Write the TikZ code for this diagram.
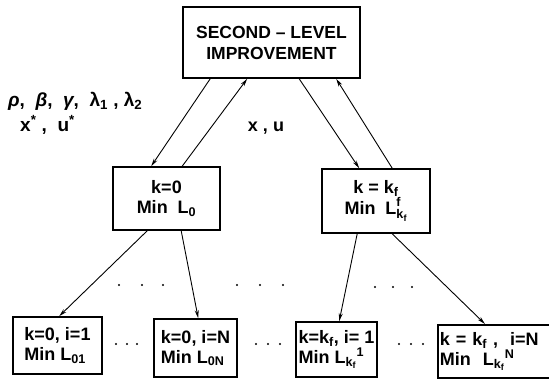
\documentclass[tikz,border=0pt]{standalone}
\usepackage{amsmath}
\usepackage{fontspec}
\setmainfont{Liberation Sans}
\usetikzlibrary{arrows.meta,calc}
\begin{document}
\begin{tikzpicture}[x=1pt,y=-1pt,
  box/.style={draw,line width=1.6pt,inner sep=1pt,align=center,font=\fontsize{18}{20}\selectfont\bfseries},
  lbl/.style={inner sep=0pt,font=\fontsize{18}{20}\selectfont\bfseries},
  conn/.style={line width=0.9pt,-{Stealth[length=8pt,width=4pt]}},
  dot/.style={fill,circle,inner sep=0pt,minimum size=2.4pt}]
\useasboundingbox (0,0) rectangle (549,387);
\clip (0,0) rectangle (549,387);
\node[box,minimum width=177,minimum height=71,font=\fontsize{17.5}{21}\selectfont\bfseries] (top) at (271.5,42.5) {SECOND -- LEVEL\\IMPROVEMENT};
\node[box,minimum width=107,minimum height=63] (ml) at (166.5,198.5) {k=0\\Min\ \ $\text{L}_{\text{0}}$};
\node[box,minimum width=108,minimum height=64] (mr) at (376,201) {k = $\text{k}_{\text{f}}$\\Min\ \ $\text{L}^{\text{f}}_{\text{k}_{\text{f}}}$};
\node[box,align=left,minimum width=89,minimum height=57] (b1) at (57.5,345.5) {k=0, i=1\\Min $\text{L}_{\text{01}}$};
\node[box,align=left,minimum width=83,minimum height=58] (b2) at (195.5,348) {k=0, i=N\\Min $\text{L}_{\text{0N}}$};
\node[box,align=left,minimum width=81,minimum height=55] (b3) at (336.5,349.5) {k=$\text{k}_{\text{f}}$, i= 1\\Min $\text{L}_{\text{k}_{\text{f}}}{}^{\text{1}}$};
\node[box,align=left,inner sep=2pt,text width=120pt,minimum height=53,anchor=north west] (b4) at (437,324) {k = $\text{k}_{\text{f}}$ ,\ \ i=N\\Min \ $\text{L}_{\text{k}_{\text{f}}}{}^{\text{N}}$};
% connectors
\draw[conn] ($(top.south west)+(28,0)$) -- ($(ml.north west)+(39,0)$);
\draw[conn] ($(ml.north west)+(70,0)$) -- ($(top.south west)+(65,0)$);
\draw[conn] ($(top.south west)+(117,0)$) -- ($(mr.north west)+(38,0)$);
\draw[conn] ($(mr.north west)+(71,0)$) -- ($(top.south west)+(154,0)$);
\draw[conn] ($(ml.south west)+(35,0)$) -- ($(b1.north west)+(47,0)$);
\draw[conn] ($(ml.south west)+(69,0)$) -- ($(b2.north west)+(45,0)$);
\draw[conn] ($(mr.south west)+(36,0)$) -- ($(b3.north west)+(44,0)$);
\draw[conn] ($(mr.south west)+(71,0)$) -- ($(b4.north west)+(48,0)$);
% labels
\node[lbl,anchor=west,font=\fontsize{19}{21}\selectfont\bfseries] (l1) at (8,101) {\textit{ρ}, \ \textit{β}, \ \textit{γ}, \ λ\textsubscript{1} , λ\textsubscript{2}};
\node[lbl,anchor=west,font=\fontsize{19}{21}\selectfont\bfseries] (l2) at (20,125) {x\textsuperscript{*} , \ u\textsuperscript{*}};
\node[lbl] (l3) at (266,128) {x , u};
% dots
\foreach \x in {119,142,163,237,260,283} \node[dot] at (\x,285) {};
\foreach \x in {375,393,412} \node[dot] at (\x,287) {};
\foreach \x in {116,127,137,256,268,280,399,411,423} \node[dot] at (\x,344) {};
\end{tikzpicture}
\end{document}
